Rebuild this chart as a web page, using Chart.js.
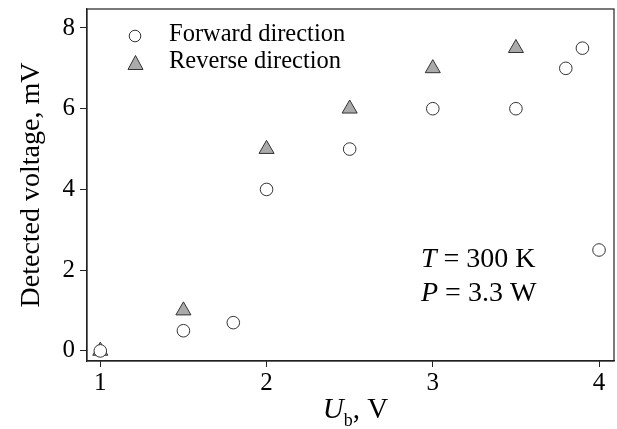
<!DOCTYPE html>
<html>
<head>
<meta charset="utf-8">
<script src="https://cdn.jsdelivr.net/npm/chart.js"></script>
<style>
  html, body { margin: 0; padding: 0; background: #fff; }
  #wrap { width: 617px; height: 429px; }
</style>
</head>
<body>
<div id="wrap"><canvas id="voltChart" width="617" height="429"></canvas></div>
<script>
// bias voltage Ub (V) and detected voltage (mV)
const forwardX = [1, 1.5, 1.8, 2, 2.5, 3, 3.5, 3.8, 3.9, 4];
const forwardY = [0, 0.5, 0.7, 4, 5, 6, 6, 7, 7.5, 2.5];
const reverseX = [1, 1.5, 2, 2.5, 3, 3.5];
const reverseY = [0, 1, 5, 6, 7, 7.5];
const xTicks = [1, 2, 3, 4];
const yTicks = [0, 2, 4, 6, 8];
const seriesNames = ["Forward direction", "Reverse direction"];

const serif = "'Liberation Serif', 'Times New Roman', serif";

toPoints = (xs, ys) => {
    let pts = [];
    for (var i = 0; i < xs.length; i++) {
        pts.push({ x: xs[i], y: ys[i] });
    }
    return pts;
};

// frame, legend, annotation and subscripted x title
const extras = {
    id: 'extras',
    afterDraw(chart) {
        const ctx = chart.ctx;
        const a = chart.chartArea;
        ctx.save();
        ctx.strokeStyle = '#222';
        ctx.lineWidth = 1.2;
        ctx.strokeRect(a.left, a.top, a.right - a.left, a.bottom - a.top);

        // legend
        ctx.beginPath();
        ctx.arc(135, 36, 5.8, 0, Math.PI * 2);
        ctx.fillStyle = '#fff';
        ctx.fill();
        ctx.strokeStyle = '#333';
        ctx.lineWidth = 1;
        ctx.stroke();
        ctx.beginPath();
        ctx.moveTo(135.5, 55.5);
        ctx.lineTo(143, 69.5);
        ctx.lineTo(128, 69.5);
        ctx.closePath();
        ctx.fillStyle = '#aaa';
        ctx.fill();
        ctx.stroke();
        ctx.fillStyle = '#000';
        ctx.font = "24.5px " + serif;
        ctx.textBaseline = 'middle';
        ctx.textAlign = 'left';
        ctx.fillText(seriesNames[0], 169, 35);
        ctx.fillText(seriesNames[1], 169, 62);

        // T and P annotation
        const drawPair = (sym, rest, x, y) => {
            ctx.font = "italic 28px " + serif;
            ctx.fillText(sym, x, y);
            const w = ctx.measureText(sym).width;
            ctx.font = "28px " + serif;
            ctx.fillText(rest, x + w, y);
        };
        drawPair("T", " = 300 K", 421, 260);
        drawPair("P", " = 3.3 W", 421, 294);

        // x title: U_b, V
        ctx.font = "italic 29px " + serif;
        const uW = ctx.measureText("U").width;
        ctx.font = "18px " + serif;
        const bW = ctx.measureText("b").width;
        ctx.font = "29px " + serif;
        const restW = ctx.measureText(", V").width;
        let x0 = (a.left + a.right) / 2 + 5 - (uW + bW + restW) / 2;
        ctx.textBaseline = 'alphabetic';
        ctx.font = "italic 29px " + serif;
        ctx.fillText("U", x0, 418);
        ctx.font = "18px " + serif;
        ctx.fillText("b", x0 + uW, 426);
        ctx.font = "29px " + serif;
        ctx.fillText(", V", x0 + uW + bW, 418);
        ctx.restore();
    }
};

displayVoltChart = () => {
    var ctx = document.getElementById("voltChart").getContext('2d');
    var myChart = new Chart(ctx, {
        type: 'scatter',
        data: {
            datasets: [{
                label: seriesNames[0],
                data: toPoints(forwardX, forwardY),
                pointStyle: 'circle',
                pointRadius: 6.3,
                backgroundColor: '#fff',
                borderColor: '#333',
                borderWidth: 1
            },
            {
                label: seriesNames[1],
                data: toPoints(reverseX, reverseY),
                pointStyle: 'triangle',
                pointRadius: 8.7,
                backgroundColor: '#aaa',
                borderColor: '#333',
                borderWidth: 1
            }]
        },
        options: {
            responsive: false,
            animation: false,
            events: [],
            layout: { autoPadding: false, padding: { top: 9, right: 3, left: 0, bottom: 0 } },
            plugins: {
                legend: { display: false },
                tooltip: { enabled: false }
            },
            scales: {
                x: {
                    type: 'linear',
                    min: 0.92,
                    max: 4.09,
                    afterBuildTicks: s => { s.ticks = xTicks.map(v => ({ value: v })); },
                    afterFit: s => { s.height = 68; s.paddingLeft = 0; s.paddingRight = 0; },
                    grid: { drawOnChartArea: false, drawTicks: true, tickLength: 6, color: '#222' },
                    border: { color: '#222', width: 1.2 },
                    ticks: { color: '#000', font: { family: serif, size: 25 }, padding: 1, maxRotation: 0 }
                },
                y: {
                    type: 'linear',
                    min: -0.25,
                    max: 8.47,
                    afterBuildTicks: s => { s.ticks = yTicks.map(v => ({ value: v })); },
                    afterFit: s => { s.width = 87; s.paddingTop = 0; s.paddingBottom = 0; },
                    grid: { drawOnChartArea: false, drawTicks: true, tickLength: 7, color: '#222' },
                    border: { color: '#222', width: 1.2 },
                    ticks: { color: '#000', font: { family: serif, size: 25 }, padding: 5 },
                    title: {
                        display: true,
                        text: 'Detected voltage, mV',
                        color: '#000',
                        font: { family: serif, size: 28 },
                        padding: { top: 15, bottom: 0 }
                    }
                }
            }
        },
        plugins: [extras]
    });
};

displayVoltChart();
</script>
</body>
</html>
